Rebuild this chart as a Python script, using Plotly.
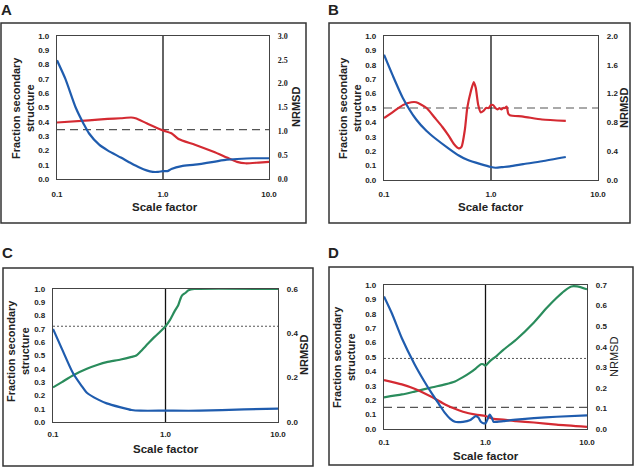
import plotly.graph_objects as go

# ---------------- data ----------------
# Panel A
a_blue_x = [0.1, 0.12, 0.15, 0.18, 0.2, 0.25, 0.3, 0.4, 0.5, 0.6, 0.7, 0.8, 0.9, 1.0, 1.1, 1.2, 1.5, 2, 3, 4, 5, 7, 10]
a_blue_y = [2.49, 2.1, 1.5, 1.14, 0.96, 0.72, 0.6, 0.45, 0.33, 0.24, 0.18, 0.15, 0.15, 0.165, 0.165, 0.21, 0.27, 0.3, 0.36, 0.405, 0.42, 0.435, 0.435]
a_red_x = [0.1, 0.2, 0.3, 0.4, 0.5, 0.55, 0.7, 1.0, 1.2, 1.4, 2, 3, 4, 5, 6, 8, 10]
a_red_y = [0.395, 0.41, 0.42, 0.425, 0.43, 0.425, 0.39, 0.34, 0.32, 0.28, 0.24, 0.19, 0.15, 0.12, 0.11, 0.115, 0.12]
a_ref = 0.345

# Panel B
b_blue_x = [0.1, 0.12, 0.15, 0.2, 0.25, 0.3, 0.4, 0.5, 0.6, 0.8, 1.0, 1.1, 1.3, 1.5, 2, 3, 5]
b_blue_y = [1.74, 1.46, 1.14, 0.84, 0.68, 0.58, 0.44, 0.34, 0.28, 0.22, 0.18, 0.17, 0.18, 0.19, 0.22, 0.26, 0.32]
b_red_x = [0.1, 0.12, 0.15, 0.18, 0.2, 0.25, 0.3, 0.35, 0.4, 0.45, 0.5, 0.53, 0.57, 0.6, 0.65, 0.69, 0.72, 0.76, 0.8,
           0.85, 0.9, 0.95, 1.0, 1.05, 1.1, 1.15, 1.2, 1.25, 1.3, 1.35, 1.4, 1.45, 1.5, 2, 3, 5]
b_red_y = [0.43, 0.47, 0.52, 0.54, 0.54, 0.5, 0.43, 0.37, 0.31, 0.25, 0.22, 0.23, 0.35, 0.5, 0.62, 0.68, 0.64, 0.52, 0.47,
           0.48, 0.5, 0.5, 0.52, 0.52, 0.5, 0.49, 0.5, 0.49, 0.5, 0.5, 0.51, 0.46, 0.45, 0.44, 0.42, 0.41]
b_ref = 0.5

# Panel C
c_blue_x = [0.1, 0.12, 0.15, 0.18, 0.2, 0.25, 0.3, 0.4, 0.5, 0.6, 1.0, 2, 5, 10]
c_blue_y = [0.42, 0.33, 0.222, 0.162, 0.132, 0.102, 0.084, 0.066, 0.054, 0.051, 0.051, 0.051, 0.057, 0.06]
c_green_x = [0.1, 0.12, 0.15, 0.2, 0.25, 0.3, 0.4, 0.5, 0.55, 0.6, 0.7, 0.8, 0.9, 1.0, 1.1, 1.2, 1.3, 1.35, 1.4, 1.5, 1.6, 1.8, 10]
c_green_y = [0.26, 0.3, 0.35, 0.4, 0.43, 0.45, 0.47, 0.49, 0.5, 0.53, 0.59, 0.64, 0.68, 0.72, 0.77, 0.83, 0.88, 0.92, 0.95, 0.97, 0.99, 1.0, 1.0]
c_ref = 0.72

# Panel D
d_blue_x = [0.1, 0.12, 0.15, 0.2, 0.25, 0.3, 0.35, 0.4, 0.45, 0.5, 0.6, 0.7, 0.8, 0.85, 0.9, 0.95, 1.0, 1.05, 1.1, 1.15,
            1.2, 1.3, 1.5, 2, 3, 5, 10]
d_blue_y = [0.644, 0.56, 0.441, 0.315, 0.231, 0.168, 0.119, 0.077, 0.049, 0.035, 0.035, 0.042, 0.063, 0.056, 0.035, 0.028,
            0.028, 0.049, 0.07, 0.056, 0.035, 0.035, 0.0385, 0.0455, 0.0525, 0.0595, 0.0665]
d_red_x = [0.1, 0.15, 0.2, 0.3, 0.4, 0.5, 0.6, 0.8, 1.0, 1.2, 1.5, 2, 3, 5, 10]
d_red_y = [0.34, 0.31, 0.28, 0.22, 0.17, 0.14, 0.12, 0.1, 0.09, 0.07, 0.065, 0.055, 0.045, 0.03, 0.015]
d_green_x = [0.1, 0.15, 0.2, 0.3, 0.4, 0.5, 0.6, 0.7, 0.8, 0.9, 0.95, 1.0, 1.1, 1.3, 1.5, 2, 3, 4, 5, 6, 7, 8, 10]
d_green_y = [0.22, 0.24, 0.26, 0.29, 0.31, 0.33, 0.36, 0.39, 0.42, 0.45, 0.45, 0.44, 0.47, 0.51, 0.55, 0.62, 0.74, 0.84, 0.91, 0.96, 0.99, 0.99, 0.97]
d_ref_dot = 0.49
d_ref_dash = 0.15

left_ticks = [0.0, 0.1, 0.2, 0.3, 0.4, 0.5, 0.6, 0.7, 0.8, 0.9, 1.0]
x_tickvals = [0.1, 1.0, 10.0]
x_ticktext = ["0.1", "1.0", "10.0"]
right_ranges = {"A": [0, 3], "B": [0, 2], "C": [0, 0.6], "D": [0, 0.7]}
right_dticks = {"A": 0.5, "B": 0.4, "C": 0.2, "D": 0.1}

# ---------------- styling ----------------
BLUE = "#1f5cae"
RED = "#d42a32"
GREEN = "#2a8c5c"
AX = "#444444"
FONT = "Liberation Sans"
W, H = 640, 468
TICK = 8

def px_x(p):
    return p / W

def px_y(p):
    return 1 - p / H

# plot area rectangles in pixels (x0, x1, ytop, ybottom)
areas = {
    "A": (57, 269, 36, 179),
    "B": (384, 598, 36, 180),
    "C": (53, 278, 289, 422),
    "D": (384, 587, 285, 429),
}
boxes = {
    "A": (1, 306, 23, 223),
    "B": (329, 630, 23, 223),
    "C": (3, 313, 268, 466),
    "D": (329, 633, 267, 465),
}
xlab_standoff = {"A": 7, "B": 6, "C": 4, "D": 5}

fig = go.Figure()
layout = dict(
    width=W, height=H, margin=dict(l=0, r=0, t=0, b=0, autoexpand=False),
    paper_bgcolor="white", plot_bgcolor="white", showlegend=False,
    font=dict(family=FONT, color="#222"),
)

panels = ["A", "B", "C", "D"]
for i, p in enumerate(panels):
    n = i + 1
    xa = "x" if n == 1 else f"x{n}"
    yl = 2 * n - 1
    yr = 2 * n
    yla = "y" if yl == 1 else f"y{yl}"
    x0, x1, yt, yb = areas[p]
    xkey = "xaxis" if n == 1 else f"xaxis{n}"
    ylkey = "yaxis" if yl == 1 else f"yaxis{yl}"
    yrkey = f"yaxis{yr}"
    layout[xkey] = dict(
        domain=[px_x(x0), px_x(x1)], anchor=yla, type="log", range=[-1, 1],
        tickvals=x_tickvals, ticktext=x_ticktext, showgrid=False, zeroline=False,
        showline=True, mirror=True, linecolor=AX, linewidth=1.3, automargin=False,
        tickfont=dict(size=TICK, family=FONT, weight="bold"), ticks="", ticklabelstandoff=xlab_standoff[p],
    )
    layout[ylkey] = dict(
        domain=[px_y(yb), px_y(yt)], anchor=xa, range=[0, 1], automargin=False,
        tickvals=left_ticks, ticktext=[f"{v:.1f}" for v in left_ticks],
        showgrid=False, zeroline=False, showline=True, linecolor=AX, linewidth=1.3,
        tickfont=dict(size=TICK, family=FONT, weight="bold"), ticks="", ticklabelstandoff=5,
    )
    rfont = dict(size=TICK, family="Liberation Serif" if p == "A" else FONT, weight="bold")
    layout[yrkey] = dict(
        domain=[px_y(yb), px_y(yt)], anchor=xa, overlaying=yla, side="right",
        range=right_ranges[p], dtick=right_dticks[p], tick0=0, tickformat=".1f", automargin=False,
        showgrid=False, zeroline=False, showline=True, linecolor=AX, linewidth=1.3,
        tickfont=rfont, ticks="", ticklabelstandoff=6,
    )

def line(x, y, color, xa, ya, dash="solid", width=2.2):
    fig.add_trace(go.Scatter(x=x, y=y, mode="lines", xaxis=xa, yaxis=ya,
                             line=dict(color=color, width=width, dash=dash, shape="spline", smoothing=0.6),
                             hoverinfo="skip"))

def ref(yv, xa, ya, dash, color="#555", width=1.2):
    fig.add_trace(go.Scatter(x=[0.1, 10], y=[yv, yv], mode="lines", xaxis=xa, yaxis=ya,
                             line=dict(color=color, width=width, dash=dash), hoverinfo="skip"))

def vline(xa, ya):
    fig.add_trace(go.Scatter(x=[1, 1], y=[0, 1], mode="lines", xaxis=xa, yaxis=ya,
                             line=dict(color="#111", width=1.3), hoverinfo="skip"))

# Panel A
ref(a_ref, "x", "y", "8px,5px")
vline("x", "y")
line(a_red_x, a_red_y, RED, "x", "y")
line(a_blue_x, a_blue_y, BLUE, "x", "y2")
# Panel B
ref(b_ref, "x2", "y3", "8px,5px")
vline("x2", "y3")
line(b_red_x, b_red_y, RED, "x2", "y3")
line(b_blue_x, b_blue_y, BLUE, "x2", "y4")
# Panel C
ref(c_ref, "x3", "y5", "2px,2px", width=1)
vline("x3", "y5")
line(c_green_x, c_green_y, GREEN, "x3", "y5")
line(c_blue_x, c_blue_y, BLUE, "x3", "y6")
# Panel D
ref(d_ref_dot, "x4", "y7", "2px,2px", width=1)
ref(d_ref_dash, "x4", "y7", "8px,5px")
vline("x4", "y7")
line(d_green_x, d_green_y, GREEN, "x4", "y7")
line(d_red_x, d_red_y, RED, "x4", "y7")
line(d_blue_x, d_blue_y, BLUE, "x4", "y8")

# outer boxes
shapes = []
for p in panels:
    bx0, bx1, byt, byb = boxes[p]
    shapes.append(dict(type="rect", xref="paper", yref="paper",
                       x0=px_x(bx0), x1=px_x(bx1), y0=px_y(byb), y1=px_y(byt),
                       line=dict(color="#333", width=1.5), fillcolor="rgba(0,0,0,0)", layer="below"))
layout["shapes"] = shapes

# annotations (titles, panel letters)
ann = []
def text(t, xp, yp, size, angle=0, bold=True, family=FONT):
    ann.append(dict(text=t, x=px_x(xp), y=px_y(yp), xref="paper", yref="paper",
                    showarrow=False, textangle=angle, xanchor="center", yanchor="middle",
                    font=dict(size=size, family=family, color="#222", weight="bold" if bold else "normal")))

text("A", 6, 9, 15)
text("B", 333, 9, 15)
text("C", 7, 252, 15)
text("D", 333, 252, 15)

ytitle = "Fraction secondary<br>structure"
text(ytitle, 23, 108, 11, angle=-90)
text(ytitle, 350, 108, 11, angle=-90)
text(ytitle, 18, 351, 11, angle=-90)
text(ytitle, 344, 357, 11, angle=-90)

text("NRMSD", 296, 107, 11, angle=-90)
text("NRMSD", 624, 108, 11, angle=-90)
text("NRMSD", 304, 355, 11, angle=-90)
text("NRMSD", 614, 357, 11, angle=-90, bold=False)

text("Scale factor", 165, 207, 11.5)
text("Scale factor", 491, 207, 11.5)
text("Scale factor", 166, 449, 11.5)
text("Scale factor", 486, 456, 11.5)

layout["annotations"] = ann
fig.update_layout(**layout)
fig.write_html("out.html", config={"displayModeBar": False},
               post_script="document.body.style.margin='0';document.body.style.padding='0';document.body.style.overflow='hidden';")
